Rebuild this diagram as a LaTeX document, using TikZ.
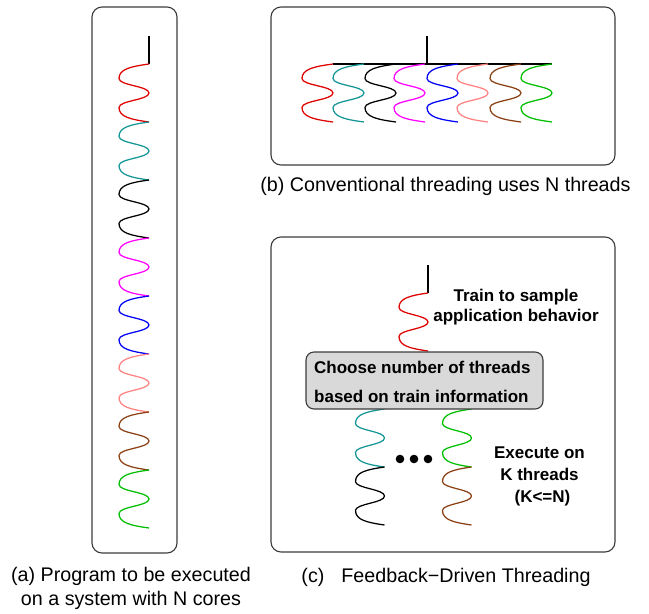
\documentclass[tikz,border=0pt]{standalone}
\usepackage{fontspec}
\setmainfont{Liberation Sans}
\definecolor{cred}{RGB}{222,0,0}
\definecolor{cteal}{RGB}{20,150,150}
\definecolor{cmag}{RGB}{255,0,255}
\definecolor{cblue}{RGB}{0,0,245}
\definecolor{cpink}{RGB}{255,130,130}
\definecolor{cbrown}{RGB}{140,65,20}
\definecolor{cgreen}{RGB}{0,190,0}
\definecolor{boxgray}{RGB}{217,217,217}
\definecolor{edgegray}{RGB}{60,60,60}
\newcommand{\wv}[4]{%
  \begin{scope}[shift={(#1,#2)}]
    \draw[wave,#4] (0,0) .. controls ({-0.6*#3},2.5) and ({-#3},5) .. ({-#3},14.5)
      .. controls ({-#3},21.5) and (0,22) .. (0,29)
      .. controls (0,36) and ({-#3},36.5) .. ({-#3},43.5)
      .. controls ({-#3},53) and ({-0.6*#3},55.5) .. (0,58);
  \end{scope}}
\begin{document}
\begin{tikzpicture}[x=1pt,y=-1pt,
  wave/.style={line width=1.25pt},
  panel/.style={draw=edgegray,line width=1.1pt,rounded corners=10pt},
  stem/.style={line width=1.3pt,black},
  captxt/.style={font=\fontsize{19.7}{23.5}\selectfont,inner sep=0pt,align=center},
  lbl/.style={font=\fontsize{17}{20}\selectfont\bfseries,inner sep=0pt,align=center},
  greybox/.style={draw=edgegray,fill=boxgray,line width=1.1pt,rounded corners=8pt}]
\useasboundingbox (0,0) rectangle (649,614);
% panels
\draw[panel] (92,7) rectangle (177,553);
\draw[panel] (271,7) rectangle (615,165);
\draw[panel] (271,237) rectangle (615,552);
% (a) single thread
\coordinate (atop) at (149,36);
\coordinate (abot) at (149,64);
\draw[stem] (atop) -- (abot);
\foreach \c [count=\i from 0] in {cred,cteal,black,cmag,cblue,cpink,cbrown,cgreen}{
  \wv{149}{64+58*\i}{30}{\c}
}
% (b) N threads
\coordinate (btop) at (427,36);
\coordinate (bmid) at (427,64);
\coordinate (bl) at (333,64);
\coordinate (br) at (552,64);
\draw[stem] (btop) -- (bmid);
\draw[stem] (bl) -- (br);
\foreach \c/\xx in {cred/333,cteal/364,black/396,cmag/425,cblue/458,cpink/488,cbrown/521,cgreen/552}{
  \wv{\xx}{64}{31}{\c}
}
\node[captxt] (capb) at (445.5,186) {(b) Conventional threading uses N threads};
% (c) feedback driven
\coordinate (ctop) at (428,265);
\coordinate (cmid) at (428,293);
\draw[stem] (ctop) -- (cmid);
\wv{428}{293}{29}{cred}
\wv{384.5}{409}{29}{cteal}
\wv{384.5}{467}{29}{black}
\wv{471.5}{409}{29}{cgreen}
\wv{471.5}{467}{29}{cbrown}
\draw[greybox] (306,352) rectangle (543,409);
\node[lbl,align=left,anchor=north west,font=\fontsize{17}{29}\selectfont\bfseries] (choose) at (314,361) {Choose number of threads\\based on train information};
\node[lbl] (train) at (516,307.5) {Train to sample\\application behavior};
\node[lbl,font=\fontsize{17}{22}\selectfont\bfseries] (exec) at (539.5,476) {Execute on\\K threads\\\hspace*{6pt}(K<=N)};
\fill (400,459) circle (4.3);
\fill (414,459) circle (4.3);
\fill (428,459) circle (4.3);
% captions
\node[captxt] (capa) at (131,588.5) {(a) Program to be executed\\on a system with N cores};
\node[captxt] (capc) at (446,577) {(c)\hspace{17pt}Feedback−Driven Threading};
\end{tikzpicture}
\end{document}
